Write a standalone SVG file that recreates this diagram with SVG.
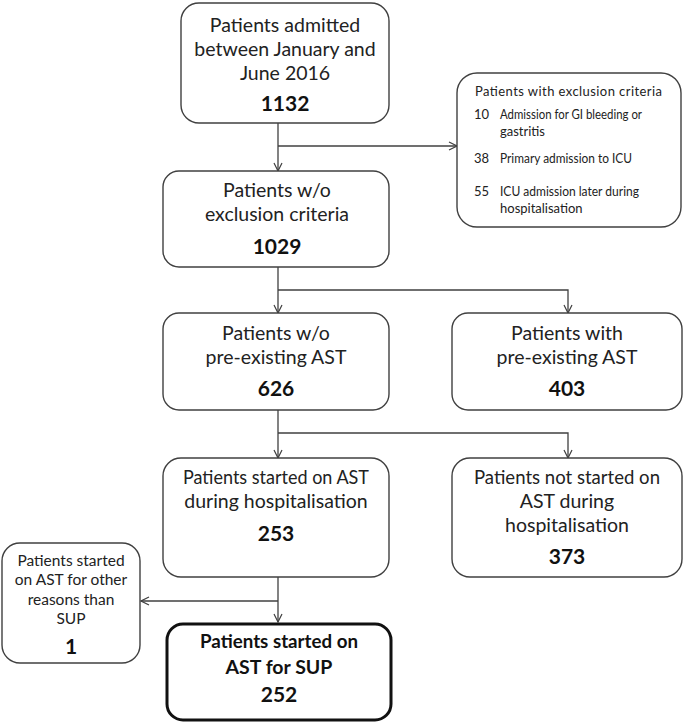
<svg xmlns="http://www.w3.org/2000/svg" width="685" height="725" viewBox="0 0 685 725">
<defs>
<marker id="arr" viewBox="0 0 10 10" refX="9" refY="5" markerWidth="10" markerHeight="10" markerUnits="userSpaceOnUse" orient="auto">
<path d="M1,1 L9,5 L1,9" fill="none" stroke="#404040" stroke-width="1.2"/>
</marker>
<style>
.box{fill:#fff;stroke:#404040;stroke-width:1.4}
.bold{fill:#fff;stroke:#111;stroke-width:3}
.t{font-family:Lato,"Liberation Sans",sans-serif;font-size:19.5px;fill:#222;text-anchor:middle}
.n{font-family:Lato,"Liberation Sans",sans-serif;font-size:21px;font-weight:bold;fill:#111;text-anchor:middle}
.b{font-family:Lato,"Liberation Sans",sans-serif;font-size:19.5px;font-weight:bold;fill:#111;text-anchor:middle}
.s{font-family:Lato,"Liberation Sans",sans-serif;font-size:15.5px;fill:#222;text-anchor:middle}
.x{font-family:Lato,"Liberation Sans",sans-serif;font-size:13px;fill:#222}
.c{fill:none;stroke:#404040;stroke-width:1.3}
</style>
</defs>
<rect width="685" height="725" fill="#fff"/>
<g id="connectors">
<line class="c" x1="278" y1="123" x2="278" y2="171" marker-end="url(#arr)"/>
<line class="c" x1="278" y1="146" x2="457" y2="146" marker-end="url(#arr)"/>
<line class="c" x1="278" y1="267" x2="278" y2="313" marker-end="url(#arr)"/>
<polyline class="c" points="278,290 568,290 568,313" marker-end="url(#arr)"/>
<line class="c" x1="278" y1="410" x2="278" y2="458" marker-end="url(#arr)"/>
<polyline class="c" points="278,433 568,433 568,458" marker-end="url(#arr)"/>
<line class="c" x1="278" y1="577" x2="278" y2="622" marker-end="url(#arr)"/>
<line class="c" x1="278" y1="601" x2="141" y2="601" marker-end="url(#arr)"/>
</g>
<g id="admitted">
<rect class="box" x="181" y="3" width="208" height="120" rx="18"/>
<text class="t" x="285" y="32">Patients admitted</text>
<text class="t" x="285" y="56">between January and</text>
<text class="t" x="285" y="80">June 2016</text>
<text class="n" x="285" y="111">1132</text>
</g>
<g id="exclusion">
<rect class="box" x="457" y="73" width="224" height="154" rx="20"/>
<text class="x" x="475" y="96" textLength="187" lengthAdjust="spacing">Patients with exclusion  criteria</text>
<text class="x" x="474" y="119">10</text>
<text class="x" x="500" y="119" textLength="142" lengthAdjust="spacingAndGlyphs">Admission for GI bleeding or</text>
<text class="x" x="500" y="136">gastritis</text>
<text class="x" x="474" y="163">38</text>
<text class="x" x="500" y="163" textLength="132" lengthAdjust="spacingAndGlyphs">Primary admission to ICU</text>
<text class="x" x="474" y="196">55</text>
<text class="x" x="500" y="196" textLength="139" lengthAdjust="spacingAndGlyphs">ICU admission later during</text>
<text class="x" x="500" y="213">hospitalisation</text>
</g>
<g id="no-exclusion">
<rect class="box" x="163" y="171" width="226" height="96" rx="16"/>
<text class="t" x="277" y="197">Patients w/o</text>
<text class="t" x="277" y="221">exclusion criteria</text>
<text class="n" x="277" y="254">1029</text>
</g>
<g id="no-ast">
<rect class="box" x="163" y="313" width="226" height="97" rx="16"/>
<text class="t" x="276" y="340">Patients w/o</text>
<text class="t" x="276" y="364">pre-existing AST</text>
<text class="n" x="276" y="396">626</text>
</g>
<g id="with-ast">
<rect class="box" x="452" y="313" width="230" height="97" rx="16"/>
<text class="t" x="567" y="340">Patients with</text>
<text class="t" x="567" y="364">pre-existing AST</text>
<text class="n" x="567" y="396">403</text>
</g>
<g id="started">
<rect class="box" x="163" y="458" width="226" height="119" rx="18"/>
<text class="t" x="276" y="484" textLength="186" lengthAdjust="spacingAndGlyphs">Patients started on AST</text>
<text class="t" x="276" y="508">during hospitalisation</text>
<text class="n" x="276" y="541">253</text>
</g>
<g id="not-started">
<rect class="box" x="452" y="458" width="230" height="119" rx="18"/>
<text class="t" x="567" y="484" textLength="186" lengthAdjust="spacingAndGlyphs">Patients not started on</text>
<text class="t" x="567" y="508">AST during</text>
<text class="t" x="567" y="532">hospitalisation</text>
<text class="n" x="567" y="564">373</text>
</g>
<g id="other-reasons">
<rect class="box" x="2" y="543" width="138" height="120" rx="18"/>
<text class="s" x="71" y="566">Patients started</text>
<text class="s" x="71" y="585">on AST for other</text>
<text class="s" x="71" y="605">reasons than</text>
<text class="s" x="71" y="624">SUP</text>
<text class="n" x="71" y="654">1</text>
</g>
<g id="sup">
<rect class="bold" x="167" y="624" width="224" height="96" rx="16"/>
<text class="b" x="279" y="648" textLength="158" lengthAdjust="spacingAndGlyphs">Patients started on</text>
<text class="b" x="279" y="674">AST for SUP</text>
<text class="n" x="279" y="702">252</text>
</g>
</svg>
